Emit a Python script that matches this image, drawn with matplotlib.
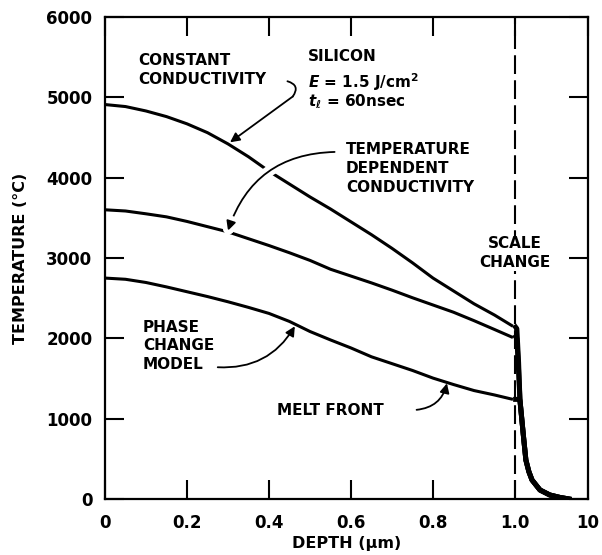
import numpy as np
import matplotlib
matplotlib.use('Agg')
import matplotlib.pyplot as plt
import matplotlib.patheffects as pe

plt.rcParams['font.family'] = 'DejaVu Sans'
plt.rcParams['font.weight'] = 'bold'

# depth (um) on the linear part, 0 .. 1.0
depth = [0.0, 0.05, 0.1, 0.15, 0.2, 0.25, 0.3, 0.35, 0.4, 0.45, 0.5,
         0.55, 0.6, 0.65, 0.7, 0.75, 0.8, 0.85, 0.9, 0.95, 0.995]
const_cond = [4910, 4885, 4830, 4760, 4670, 4560, 4420, 4260, 4080, 3920, 3760,
              3610, 3450, 3290, 3120, 2940, 2750, 2590, 2430, 2290, 2150]
temp_dep = [3600, 3585, 3550, 3512, 3455, 3390, 3325, 3240, 3155, 3065, 2970,
            2860, 2775, 2690, 2600, 2505, 2415, 2325, 2220, 2110, 2010]
phase_change = [2750, 2735, 2695, 2640, 2580, 2520, 2455, 2385, 2310, 2210, 2085,
                1980, 1880, 1770, 1685, 1600, 1505, 1425, 1350, 1295, 1240]

# tails past the scale change (1 .. 10 um)
tail_depth_top = [1.02, 1.06, 1.12, 1.17, 1.3, 1.41, 1.55, 1.71, 2.2, 3.0, 4.1, 5.5]
const_tail = [2140, 2120, 1700, 1230, 800, 485, 340, 237, 112, 50, 20, 0]
temp_tail = [2020, 2000, 1600, 1230, 800, 485, 340, 237, 112, 50, 20, 0]
tail_depth_pc = [1.02, 1.1, 1.17, 1.3, 1.41, 1.55, 1.71, 2.2, 3.0, 4.1, 5.5]
phase_tail = [1240, 1240, 1230, 800, 485, 340, 237, 112, 50, 20, 0]

xticks = [0, 0.2, 0.4, 0.6, 0.8, 1.0, 10]
xticklabels = ['0', '0.2', '0.4', '0.6', '0.8', '1.0', '10']
yticks = [0, 1000, 2000, 3000, 4000, 5000, 6000]

k = 0.178  # width of the 1..10 decade relative to 0..1


def fwd(d):
    d = np.asarray(d, dtype=float)
    return np.where(d <= 1, d, 1 + k * np.log10(np.maximum(d, 1)))


def inv(u):
    u = np.asarray(u, dtype=float)
    return np.where(u <= 1, u, 10 ** ((np.maximum(u, 1) - 1) / k))


fig = plt.figure(figsize=(6.02, 5.55), dpi=100)
ax = fig.add_axes([0.1744, 0.1009, 0.8023, 0.8685])
ax.set_xscale('function', functions=(fwd, inv))

lw = 2.2
for y in (const_cond, temp_dep, phase_change):
    ax.plot(depth, y, color='black', lw=lw, solid_capstyle='butt')
ax.plot(tail_depth_top, const_tail, color='black', lw=3.6)
ax.plot(tail_depth_top, temp_tail, color='black', lw=3.6)
ax.plot(tail_depth_pc, phase_tail, color='black', lw=3.6)

ax.axvline(1.0, color='black', lw=1.5, dashes=(9, 3))

ax.set_xlim(0, 10)
ax.set_ylim(0, 6000)
ax.set_xticks(xticks)
ax.set_xticklabels(xticklabels)
ax.set_yticks(yticks)
ax.xaxis.set_minor_locator(matplotlib.ticker.NullLocator())
ax.tick_params(direction='in', top=True, right=True, length=14, width=1.5,
               labelsize=12, pad=9)
ax.tick_params(axis='x', pad=11)
for s in ax.spines.values():
    s.set_linewidth(1.6)

ax.set_xlabel('DEPTH (μm)', fontsize=11.5, fontweight='bold', labelpad=3)
ax.set_ylabel('TEMPERATURE (°C)', fontsize=11.5, fontweight='bold', labelpad=13)

tkw = dict(fontsize=11, fontweight='bold', va='top', ha='left', linespacing=1.3)
ax.text(0.08, 5550, 'CONSTANT\nCONDUCTIVITY', **tkw)
ax.text(0.495, 5600, 'SILICON', **tkw)
ax.text(0.495, 5330, r'$E$ = 1.5 J/cm$^2$', fontsize=11, fontweight='bold', va='top', ha='left')
ax.text(0.495, 5060, r'$t_\ell$ = 60nsec', fontsize=11, fontweight='bold', va='top', ha='left')
ax.text(0.588, 4440, 'TEMPERATURE\nDEPENDENT\nCONDUCTIVITY', **tkw)
ax.text(1.0, 3270, 'SCALE\nCHANGE', fontsize=11, fontweight='bold', va='top', ha='center',
        linespacing=1.3, bbox=dict(facecolor='white', edgecolor='none', pad=0.5))
ax.text(0.093, 2230, 'PHASE\nCHANGE\nMODEL', **tkw)
ax.text(0.42, 1190, 'MELT FRONT', **tkw)

ap = dict(arrowstyle='-|>', color='black', lw=1.3, mutation_scale=14, shrinkA=0, shrinkB=0)
# curl after "CONDUCTIVITY" then straight arrow to the curve
ax.annotate('', xy=(0.458, 5010), xytext=(0.445, 5200),
            arrowprops=dict(arrowstyle='-', color='black', lw=1.3, shrinkA=0, shrinkB=0,
                            connectionstyle='arc3,rad=-0.7'))
ax.annotate('', xy=(0.305, 4440), xytext=(0.458, 5010),
            arrowprops=dict(connectionstyle='arc3,rad=0', **ap))
arr = ax.annotate('', xy=(0.30, 3340), xytext=(0.56, 4320),
                  arrowprops=dict(connectionstyle='arc3,rad=0.35', **ap))
arr.arrow_patch.set_path_effects([pe.Stroke(linewidth=8, foreground='white'), pe.Normal()])
ax.annotate('', xy=(0.463, 2150), xytext=(0.275, 1640),
            arrowprops=dict(connectionstyle='arc3,rad=0.3', **ap))
ax.annotate('', xy=(0.834, 1440), xytext=(0.76, 1110),
            arrowprops=dict(connectionstyle='arc3,rad=0.35', **ap))

fig.savefig('out.png', dpi=100)
